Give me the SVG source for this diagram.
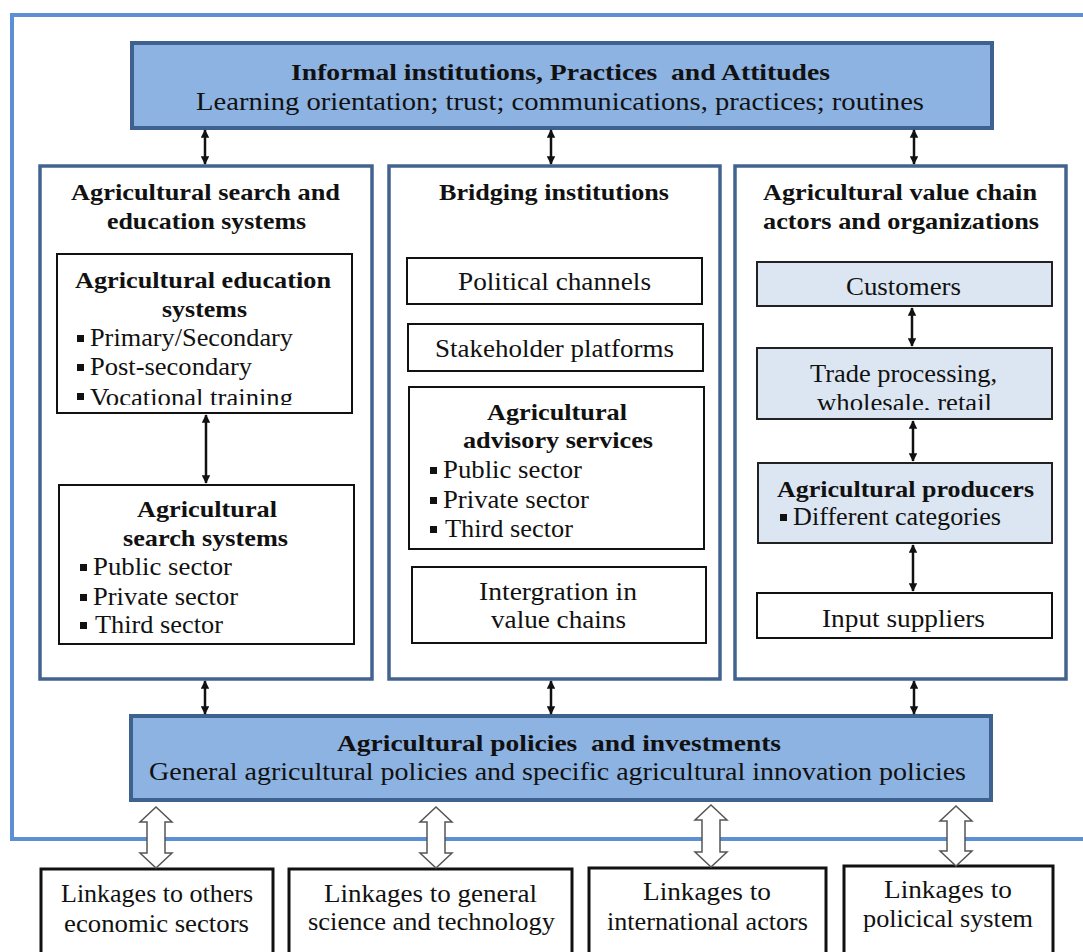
<svg xmlns="http://www.w3.org/2000/svg" width="1083" height="952" viewBox="0 0 1083 952">
<style>
text{font-family:"Liberation Serif","Times New Roman",serif;fill:#111;white-space:pre;}
.t{font-size:25px;}
.b{font-size:23px;font-weight:bold;}
.big{font-size:25px;}
.bigb{font-size:24px;font-weight:bold;}
.c{text-anchor:middle;}
.frame{fill:none;stroke:#5d8fd4;stroke-width:4;}
.blue{fill:#8db3e2;stroke:#3f6190;stroke-width:4;}
.col{fill:#fff;stroke:#43638f;stroke-width:3.5;}
.box{fill:#fff;stroke:#111;stroke-width:2;}
.lbox{fill:#dce6f2;stroke:#222;stroke-width:2;}
.lbx{fill:#fff;stroke:#111;stroke-width:3;}
.conn{stroke:#111;stroke-width:2.5;fill:none;marker-start:url(#ah);marker-end:url(#ah);}
.hollow{fill:#fff;stroke:#555;stroke-width:1.5;}
.bul{fill:#111;}
</style>
<defs>
<marker id="ah" viewBox="0 0 10 10" refX="9" refY="5" markerWidth="3.4" markerHeight="3.4" orient="auto-start-reverse" markerUnits="strokeWidth">
<path d="M0,0 L10,5 L0,10 Z" fill="#111"/>
</marker>
<clipPath id="clipEdu"><rect x="57" y="254" width="296" height="151"/></clipPath>
<clipPath id="clipTrade"><rect x="757" y="348" width="296" height="62"/></clipPath>
</defs>
<rect width="1083" height="952" fill="#fff"/>
<path class="frame" d="M1090,15 L12,15 L12,839 L1090,839"/>

<g id="informal">
<rect class="blue" x="132" y="43" width="860" height="85"/>
<text class="bigb c" x="560.5" y="80" textLength="539" lengthAdjust="spacingAndGlyphs">Informal institutions, Practices  and Attitudes</text>
<text class="big c" x="560" y="110" textLength="728" lengthAdjust="spacingAndGlyphs">Learning orientation; trust; communications, practices; routines</text>
</g>

<g id="col-left">
<rect class="col" x="40" y="166" width="332" height="513"/>
<text class="b c" x="205.5" y="200" textLength="269" lengthAdjust="spacingAndGlyphs">Agricultural search and</text>
<text class="b c" x="206.5" y="229" textLength="199" lengthAdjust="spacingAndGlyphs">education systems</text>
</g>
<g id="col-mid">
<rect class="col" x="389" y="166" width="331" height="513"/>
<text class="b c" x="554" y="200" textLength="230" lengthAdjust="spacingAndGlyphs">Bridging institutions</text>
</g>
<g id="col-right">
<rect class="col" x="735" y="166" width="331" height="513"/>
<text class="b c" x="900" y="200" textLength="274" lengthAdjust="spacingAndGlyphs">Agricultural value chain</text>
<text class="b c" x="901" y="229" textLength="276" lengthAdjust="spacingAndGlyphs">actors and organizations</text>
</g>

<g id="edu">
<rect class="box" x="57" y="254" width="295" height="159"/>
<text class="b c" x="203" y="288" textLength="256" lengthAdjust="spacingAndGlyphs">Agricultural education</text>
<text class="b c" x="204.5" y="317" textLength="85" lengthAdjust="spacingAndGlyphs">systems</text>
<g clip-path="url(#clipEdu)">
<rect class="bul" x="77" y="335" width="7" height="7"/><text class="t" x="90" y="346" textLength="203" lengthAdjust="spacingAndGlyphs">Primary/Secondary</text>
<rect class="bul" x="77" y="364" width="7" height="7"/><text class="t" x="90" y="375" textLength="162" lengthAdjust="spacingAndGlyphs">Post-secondary</text>
<rect class="bul" x="77" y="393" width="7" height="7"/><text class="t" x="90" y="406" textLength="203" lengthAdjust="spacingAndGlyphs">Vocational training</text>
</g>
</g>

<g id="search">
<rect class="box" x="59" y="485" width="295" height="159"/>
<text class="b c" x="207" y="517" textLength="140" lengthAdjust="spacingAndGlyphs">Agricultural</text>
<text class="b c" x="205.5" y="546" textLength="165" lengthAdjust="spacingAndGlyphs">search systems</text>
<rect class="bul" x="80" y="564" width="7" height="7"/><text class="t" x="93" y="575" textLength="139" lengthAdjust="spacingAndGlyphs">Public sector</text>
<rect class="bul" x="80" y="594" width="7" height="7"/><text class="t" x="93" y="605" textLength="145" lengthAdjust="spacingAndGlyphs">Private sector</text>
<rect class="bul" x="80" y="622" width="7" height="7"/><text class="t" x="95" y="633" textLength="128" lengthAdjust="spacingAndGlyphs">Third sector</text>
</g>

<g id="political">
<rect class="box" x="407" y="258" width="295" height="46"/>
<text class="t c" x="554.5" y="290" textLength="193" lengthAdjust="spacingAndGlyphs">Political channels</text>
</g>
<g id="stakeholder">
<rect class="box" x="408" y="324" width="295" height="47"/>
<text class="t c" x="554.5" y="357" textLength="239" lengthAdjust="spacingAndGlyphs">Stakeholder platforms</text>
</g>
<g id="advisory">
<rect class="box" x="409" y="387" width="295" height="162"/>
<text class="b c" x="557" y="420" textLength="140" lengthAdjust="spacingAndGlyphs">Agricultural</text>
<text class="b c" x="558" y="448" textLength="190" lengthAdjust="spacingAndGlyphs">advisory services</text>
<rect class="bul" x="430" y="467" width="7" height="7"/><text class="t" x="443" y="478" textLength="139" lengthAdjust="spacingAndGlyphs">Public sector</text>
<rect class="bul" x="430" y="497" width="7" height="7"/><text class="t" x="443" y="508" textLength="146" lengthAdjust="spacingAndGlyphs">Private sector</text>
<rect class="bul" x="430" y="526" width="7" height="7"/><text class="t" x="445" y="537" textLength="128" lengthAdjust="spacingAndGlyphs">Third sector</text>
</g>
<g id="integration">
<rect class="box" x="412" y="567" width="294" height="76"/>
<text class="t c" x="558" y="600" textLength="158" lengthAdjust="spacingAndGlyphs">Intergration in</text>
<text class="t c" x="558.5" y="628" textLength="135" lengthAdjust="spacingAndGlyphs">value chains</text>
</g>

<g id="customers">
<rect class="lbox" x="757" y="262" width="295" height="44"/>
<text class="t c" x="903.5" y="295" textLength="115" lengthAdjust="spacingAndGlyphs">Customers</text>
</g>
<g id="trade">
<rect class="lbox" x="757" y="348" width="295" height="71"/>
<text class="t c" x="903.5" y="382" textLength="187" lengthAdjust="spacingAndGlyphs">Trade processing,</text>
<g clip-path="url(#clipTrade)"><text class="t c" x="904.5" y="411" textLength="175" lengthAdjust="spacingAndGlyphs">wholesale, retail</text></g>
</g>
<g id="producers">
<rect class="lbox" x="758" y="463" width="294" height="80"/>
<text class="b c" x="905.5" y="497" textLength="257" lengthAdjust="spacingAndGlyphs">Agricultural producers</text>
<rect class="bul" x="780" y="514" width="7" height="7"/><text class="t" x="793" y="525" textLength="208" lengthAdjust="spacingAndGlyphs">Different categories</text>
</g>
<g id="input">
<rect class="box" x="757" y="593" width="295" height="45"/>
<text class="t c" x="903.5" y="627" textLength="163" lengthAdjust="spacingAndGlyphs">Input suppliers</text>
</g>

<g id="policies">
<rect class="blue" x="131" y="716" width="860" height="84"/>
<text class="bigb c" x="559" y="751" textLength="444" lengthAdjust="spacingAndGlyphs">Agricultural policies  and investments</text>
<text class="big c" x="557.5" y="780" textLength="817" lengthAdjust="spacingAndGlyphs">General agricultural policies and specific agricultural innovation policies</text>
</g>

<g id="link1">
<rect class="lbx" x="41" y="869" width="232" height="90"/>
<text class="t c" x="157" y="902" textLength="192" lengthAdjust="spacingAndGlyphs">Linkages to others</text>
<text class="t c" x="156.5" y="932" textLength="185" lengthAdjust="spacingAndGlyphs">economic sectors</text>
</g>
<g id="link2">
<rect class="lbx" x="289" y="869" width="283" height="90"/>
<text class="t c" x="430.5" y="902" textLength="213" lengthAdjust="spacingAndGlyphs">Linkages to general</text>
<text class="t c" x="431.5" y="930" textLength="247" lengthAdjust="spacingAndGlyphs">science and technology</text>
</g>
<g id="link3">
<rect class="lbx" x="589" y="868" width="237" height="90"/>
<text class="t c" x="707" y="900" textLength="128" lengthAdjust="spacingAndGlyphs">Linkages to</text>
<text class="t c" x="707.5" y="930" textLength="201" lengthAdjust="spacingAndGlyphs">international actors</text>
</g>
<g id="link4">
<rect class="lbx" x="844" y="866" width="209" height="90"/>
<text class="t c" x="948" y="898" textLength="128" lengthAdjust="spacingAndGlyphs">Linkages to</text>
<text class="t c" x="948" y="927" textLength="170" lengthAdjust="spacingAndGlyphs">policical system</text>
</g>

<g id="connectors">
<line class="conn" x1="205" y1="130" x2="205" y2="164"/>
<line class="conn" x1="551" y1="130" x2="551" y2="164"/>
<line class="conn" x1="914" y1="130" x2="914" y2="164"/>
<line class="conn" x1="206" y1="415" x2="206" y2="483"/>
<line class="conn" x1="912" y1="308" x2="912" y2="346"/>
<line class="conn" x1="913" y1="421" x2="913" y2="461"/>
<line class="conn" x1="913" y1="545" x2="913" y2="591"/>
<line class="conn" x1="205" y1="681" x2="205" y2="714"/>
<line class="conn" x1="551" y1="681" x2="551" y2="714"/>
<line class="conn" x1="914" y1="681" x2="914" y2="714"/>
<path class="hollow" d="M156,807 L172,822 L165,822 L165,853 L172,853 L156,868 L140,853 L147,853 L147,822 L140,822 Z"/>
<path class="hollow" d="M436,807 L452,822 L445,822 L445,853 L452,853 L436,868 L420,853 L427,853 L427,822 L420,822 Z"/>
<path class="hollow" d="M711,805 L727,820 L720,820 L720,852 L727,852 L711,867 L695,852 L702,852 L702,820 L695,820 Z"/>
<path class="hollow" d="M956,806 L972,821 L965,821 L965,851 L972,851 L956,866 L940,851 L947,851 L947,821 L940,821 Z"/>
</g>
</svg>
